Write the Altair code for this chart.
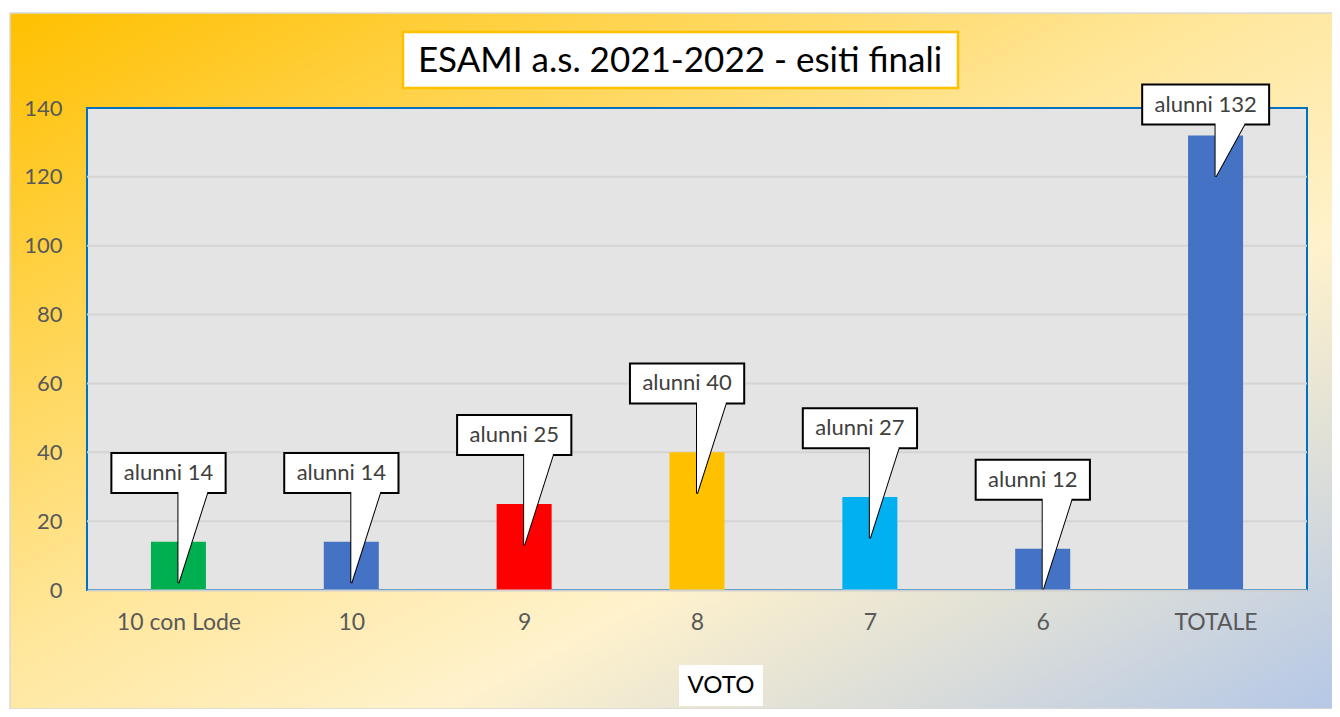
import json
import altair as alt
import pandas as pd

# ---- data ----
categories = ["10 con Lode", "10", "9", "8", "7", "6", "TOTALE"]
values = [14, 14, 25, 40, 27, 12, 132]
bar_colors = ["#00B050", "#4472C4", "#FF0000", "#FFC000", "#00B0F0", "#4472C4", "#4472C4"]
y_ticks = [0, 20, 40, 60, 80, 100, 120, 140]
title_text = "ESAMI a.s. 2021-2022 - esiti finali"
x_title = "VOTO"

# ---- layout ----
W, H = 1220, 482
PAD_L, PAD_T, PAD_R, PAD_B = 79, 100, 25, 119
YMAX = 140
px_x = W / len(categories)
px_y = H / YMAX
FONT = "Lato"

df = pd.DataFrame({
    "idx": list(range(len(categories))),
    "cat": categories,
    "value": values,
    "color": bar_colors,
})
df["label"] = ["alunni %d" % v for v in values]

# callout box (centre slightly left of the bar, above the bar top)
df["bx"] = df["idx"] - 10 / px_x
df["by"] = [min(v + 20, YMAX + 1) for v in values]
df["hw"] = [(6.4 * len(s)) / px_x for s in df["label"]]
df["bx1"] = df["bx"] - df["hw"]
df["bx2"] = df["bx"] + df["hw"]
df["by1"] = df["by"] - 20 / px_y
df["by2"] = df["by"] + 20 / px_y

# callout pointer: triangle from box bottom to a point inside the bar
rows = []
for _, r in df.iterrows():
    tip = max(r["value"] - 12, 0)
    base = r["by1"]
    rows.append({"cat": r["cat"], "px": r["idx"], "py": tip, "py2": base, "py2b": base + 2 / px_y})
    rows.append({"cat": r["cat"], "px": r["idx"] + 29 / px_x, "py": base, "py2": base, "py2b": base + 2 / px_y})
ptr = pd.DataFrame(rows)

xscale = alt.Scale(domain=[-0.5, len(categories) - 0.5], nice=False, zero=False)
yscale = alt.Scale(domain=[0, YMAX], nice=False)

x_axis = alt.Axis(
    values=list(range(len(categories))),
    labelExpr=json.dumps(categories) + "[datum.value]",
    grid=False, ticks=False, domainColor="#D0D0D0", domainWidth=2,
    labelPadding=21, labelFontSize=23, labelColor="#595959", labelFont=FONT,
    zindex=1, title=None,
)
y_axis = alt.Axis(
    values=y_ticks, grid=False, ticks=False, domain=False,
    labelPadding=25, labelFontSize=22, labelColor="#595959", labelFont=FONT,
    zindex=1, title=None,
)


def X(field):
    return alt.X(field, scale=xscale, axis=x_axis, title=None)


def Y(field):
    return alt.Y(field, scale=yscale, axis=y_axis, title=None)


one = pd.DataFrame({"a": [0]})

background = alt.Chart(one).mark_rect(
    fill=alt.Gradient(
        gradient="linear",
        stops=[
            alt.GradientStop(color="#FFC000", offset=0),
            alt.GradientStop(color="#FFE699", offset=0.45),
            alt.GradientStop(color="#FFF2CC", offset=0.66),
            alt.GradientStop(color="#B4C7E7", offset=1),
        ],
        x1=0, y1=0, x2=1, y2=1,
    ),
    stroke="#D9D9D9",
    strokeWidth=1.5,
).encode(
    x=alt.value(-PAD_L + 2), x2=alt.value(W + PAD_R + 10),
    y=alt.value(-PAD_T + 5), y2=alt.value(H + PAD_B),
)

plot_bg = alt.Chart(one).mark_rect(fill="#E4E4E4", stroke="#0070C0", strokeWidth=2).encode(
    x=alt.value(0), x2=alt.value(W), y=alt.value(0), y2=alt.value(H)
)

grid = alt.Chart(pd.DataFrame({"t": y_ticks[1:-1]})).mark_rule(
    stroke="#D4D4D4", strokeWidth=2
).encode(y=Y("t:Q"))

bars = alt.Chart(df).mark_bar(size=55).encode(
    x=X("idx:Q"),
    y=Y("value:Q"),
    color=alt.Color("color:N", scale=None),
)

ptr_outline = alt.Chart(ptr).mark_area(
    fill="white", stroke="black", strokeWidth=2, strokeJoin="miter"
).encode(
    x=X("px:Q"),
    y=Y("py:Q"),
    y2="py2:Q",
    detail="cat:N",
)

boxes = alt.Chart(df).mark_rect(fill="white", stroke="black", strokeWidth=2).encode(
    x=X("bx1:Q"), x2="bx2:Q",
    y=Y("by1:Q"), y2="by2:Q",
)

ptr_fill = alt.Chart(ptr).mark_area(fill="white", stroke=None).encode(
    x=X("px:Q"),
    y=Y("py:Q"),
    y2="py2b:Q",
    detail="cat:N",
)

labels = alt.Chart(df).mark_text(
    font=FONT, fontSize=22, color="#404040", baseline="middle", align="center"
).encode(
    x=X("bx:Q"),
    y=Y("by:Q"),
    text="label:N",
)

title_box = alt.Chart(one).mark_rect(fill="white", stroke="#FFC000", strokeWidth=2.5).encode(
    x=alt.value(316), x2=alt.value(871), y=alt.value(-76), y2=alt.value(-20)
)
title = alt.Chart(pd.DataFrame({"t": [title_text]})).mark_text(
    font=FONT, fontSize=35, color="black", baseline="middle", align="center"
).encode(x=alt.value(593), y=alt.value(-47), text="t:N")

xt_box = alt.Chart(one).mark_rect(fill="white").encode(
    x=alt.value(592), x2=alt.value(676), y=alt.value(557), y2=alt.value(598)
)
xt = alt.Chart(pd.DataFrame({"t": [x_title]})).mark_text(
    font=FONT, fontSize=24, color="black", baseline="middle", align="center"
).encode(x=alt.value(634), y=alt.value(578), text="t:N")

chart = alt.layer(
    background, plot_bg, grid, bars, ptr_outline, boxes, ptr_fill, labels,
    title_box, title, xt_box, xt,
).properties(
    width=W, height=H,
    padding={"left": PAD_L, "top": PAD_T, "right": PAD_R, "bottom": PAD_B},
    autosize=alt.AutoSizeParams(type="none"),
).configure_view(stroke=None).configure(background="white")

chart.save("out.html", embed_options={"renderer": "svg", "actions": False})
